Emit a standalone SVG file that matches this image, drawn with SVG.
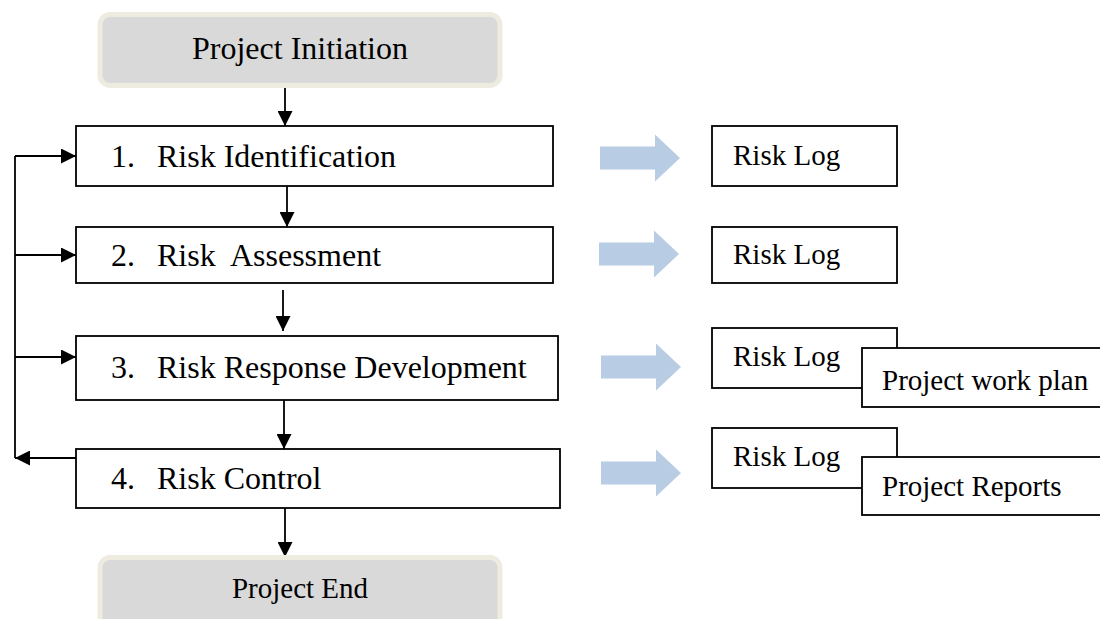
<svg xmlns="http://www.w3.org/2000/svg" width="1100" height="619" viewBox="0 0 1100 619">
  <style>
    .term { fill: #d9d9d9; stroke: #eeece1; stroke-width: 5; }
    .box { fill: #ffffff; stroke: #000000; stroke-width: 1.8; }
    .t { font-family: "Liberation Serif", "Times New Roman", serif; fill: #000000; white-space: pre; }
    .big { font-size: 32px; }
    .small { font-size: 29px; }
    .conn { fill: none; stroke: #000000; stroke-width: 1.8; }
    .out { fill: #b8cce4; }
  </style>
  <defs>
    <marker id="ahb" viewBox="0 0 10 10" refX="10" refY="5" markerWidth="16" markerHeight="15" markerUnits="userSpaceOnUse" orient="auto">
      <path d="M0,0 L10,5 L0,10 Z" fill="#000000"/>
    </marker>
    <path id="blockArrow" d="M0,-11.5 L55,-11.5 L55,-23.5 L80,0 L55,23.5 L55,11.5 L0,11.5 Z"/>
  </defs>

  <!-- connectors -->
  <g id="connectors">
    <line class="conn" x1="285" y1="88" x2="285" y2="126" marker-end="url(#ahb)"/>
    <line class="conn" x1="287" y1="186" x2="287" y2="227" marker-end="url(#ahb)"/>
    <line class="conn" x1="283" y1="290" x2="283" y2="331" marker-end="url(#ahb)"/>
    <line class="conn" x1="284" y1="400" x2="284" y2="449" marker-end="url(#ahb)"/>
    <line class="conn" x1="285" y1="508" x2="285" y2="557" marker-end="url(#ahb)"/>
    <!-- feedback loop on the left -->
    <line class="conn" x1="15" y1="156" x2="15" y2="458"/>
    <line class="conn" x1="15" y1="156" x2="76" y2="156" marker-end="url(#ahb)"/>
    <line class="conn" x1="15" y1="255" x2="76" y2="255" marker-end="url(#ahb)"/>
    <line class="conn" x1="15" y1="357" x2="76" y2="357" marker-end="url(#ahb)"/>
    <line class="conn" x1="76" y1="458" x2="15" y2="458" marker-end="url(#ahb)"/>
    <!-- output arrows -->
    <use href="#blockArrow" class="out" x="600" y="158"/>
    <use href="#blockArrow" class="out" x="599" y="254"/>
    <use href="#blockArrow" class="out" x="601" y="367"/>
    <use href="#blockArrow" class="out" x="601" y="473"/>
  </g>

  <g id="project-initiation">
    <rect class="term" x="100" y="14.5" width="400" height="71" rx="10"/>
    <text class="t big" x="300" y="59" text-anchor="middle">Project Initiation</text>
  </g>

  <g id="risk-identification">
    <rect class="box" x="76" y="126" width="477" height="60"/>
    <text class="t big" x="111" y="167">1.</text>
    <text class="t big" x="157" y="167">Risk Identification</text>
  </g>

  <g id="risk-assessment">
    <rect class="box" x="76" y="227" width="477" height="56"/>
    <text class="t big" x="111" y="266">2.</text>
    <text class="t big" x="157" y="266">Risk  Assessment</text>
  </g>

  <g id="risk-response">
    <rect class="box" x="76" y="336" width="482" height="64"/>
    <text class="t big" x="111" y="378">3.</text>
    <text class="t big" x="157" y="378">Risk Response Development</text>
  </g>

  <g id="risk-control">
    <rect class="box" x="76" y="449" width="484" height="59"/>
    <text class="t big" x="111" y="489">4.</text>
    <text class="t big" x="157" y="489">Risk Control</text>
  </g>

  <g id="project-end">
    <rect class="term" x="100" y="557.5" width="400" height="80" rx="10"/>
    <text class="t small" x="300" y="598" text-anchor="middle">Project End</text>
  </g>

  <g id="risk-log-1">
    <rect class="box" x="712" y="126" width="185" height="60"/>
    <text class="t small" x="733" y="165">Risk Log</text>
  </g>

  <g id="risk-log-2">
    <rect class="box" x="712" y="227" width="185" height="56"/>
    <text class="t small" x="733" y="264">Risk Log</text>
  </g>

  <g id="risk-log-3">
    <rect class="box" x="712" y="328" width="185" height="60"/>
    <text class="t small" x="733" y="366">Risk Log</text>
  </g>

  <g id="project-work-plan">
    <rect class="box" x="862" y="348" width="250" height="59"/>
    <text class="t small" x="882" y="390">Project work plan</text>
  </g>

  <g id="risk-log-4">
    <rect class="box" x="712" y="428" width="185" height="60"/>
    <text class="t small" x="733" y="466">Risk Log</text>
  </g>

  <g id="project-reports">
    <rect class="box" x="862" y="457" width="250" height="58"/>
    <text class="t small" x="882" y="496">Project Reports</text>
  </g>
</svg>
